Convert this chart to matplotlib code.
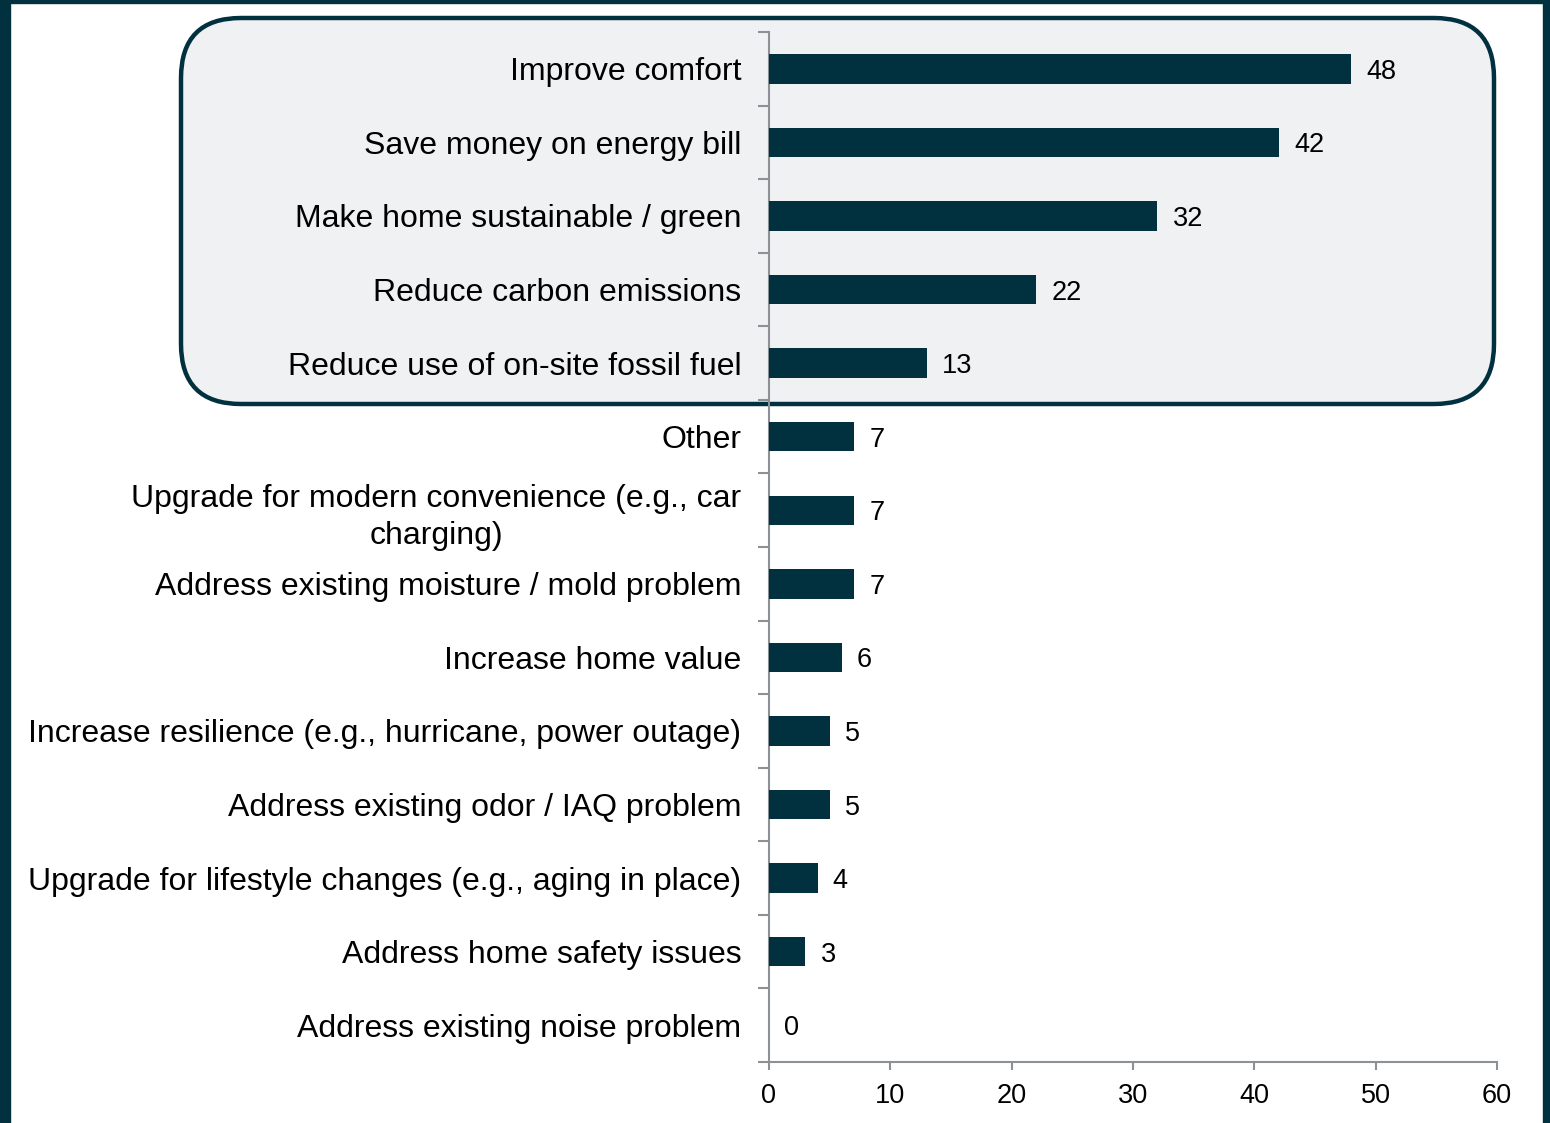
import matplotlib.pyplot as plt
from matplotlib.patches import FancyBboxPatch, Rectangle

# data, top to bottom
categories = [
    "Improve comfort",
    "Save money on energy bill",
    "Make home sustainable / green",
    "Reduce carbon emissions",
    "Reduce use of on-site fossil fuel",
    "Other",
    "Upgrade for modern convenience (e.g., car\ncharging)",
    "Address existing moisture / mold problem",
    "Increase home value",
    "Increase resilience (e.g., hurricane, power outage)",
    "Address existing odor / IAQ problem",
    "Upgrade for lifestyle changes (e.g., aging in place)",
    "Address home safety issues",
    "Address existing noise problem",
]
values = [48, 42, 32, 22, 13, 7, 7, 7, 6, 5, 5, 4, 3, 0]
x_ticks = [0, 10, 20, 30, 40, 50, 60]

dark = "#01303f"
grey = "#8c9196"

plt.rcParams['font.family'] = ['Liberation Sans', 'DejaVu Sans']

fig = plt.figure(figsize=(15.5, 11.23), dpi=100)
W, H = 1550, 1123

# frame around the picture
fig.patches.append(Rectangle((0, 0), 10 / W, 1, transform=fig.transFigure, color=dark, zorder=0))
fig.patches.append(Rectangle((0, 1 - 3 / H), 1, 3 / H, transform=fig.transFigure, color=dark, zorder=0))
fig.patches.append(Rectangle((1543 / W, 0), 7 / W, 1, transform=fig.transFigure, color=dark, zorder=0))

# highlight box around the top five (pixel coords)
box = FancyBboxPatch((181, 1123 - 404), 1313, 386,
                     boxstyle="round,pad=0,rounding_size=60", transform=None,
                     facecolor="#f0f1f3", edgecolor=dark, linewidth=3.2, zorder=0)
fig.patches.append(box)

ax = fig.add_axes([769 / W, 1 - 1062 / H, (1497 - 769) / W, (1062 - 32) / H])
ax.patch.set_alpha(0)
ax.set_zorder(2)

y = list(range(len(categories)))
ax.barh(y, values, height=0.4, color=dark, zorder=3)
for yi, v in zip(y, values):
    ax.annotate(str(v), (v, yi), xytext=(11, 0), textcoords='offset points',
                va='center_baseline', ha='left', fontsize=19.5)

ax.set_ylim(len(categories) - 0.5, -0.5)
ax.set_xlim(0, 60)
ax.set_xticks(x_ticks)
ax.tick_params(axis='x', labelsize=19.5, length=6, width=1.5, color=grey, pad=9)

ax.set_yticks(y)
ax.set_yticklabels(categories, fontsize=23, multialignment='center', linespacing=1.3)
ax.tick_params(axis='y', which='major', length=0, pad=20)
ax.set_yticks([i - 0.5 for i in range(len(categories) + 1)], minor=True)
ax.tick_params(axis='y', which='minor', length=8, width=1.5, color=grey)

for s in ['top', 'right']:
    ax.spines[s].set_visible(False)
for s in ['left', 'bottom']:
    ax.spines[s].set_color(grey)
    ax.spines[s].set_linewidth(1.5)

fig.savefig("out.png", dpi=100)
